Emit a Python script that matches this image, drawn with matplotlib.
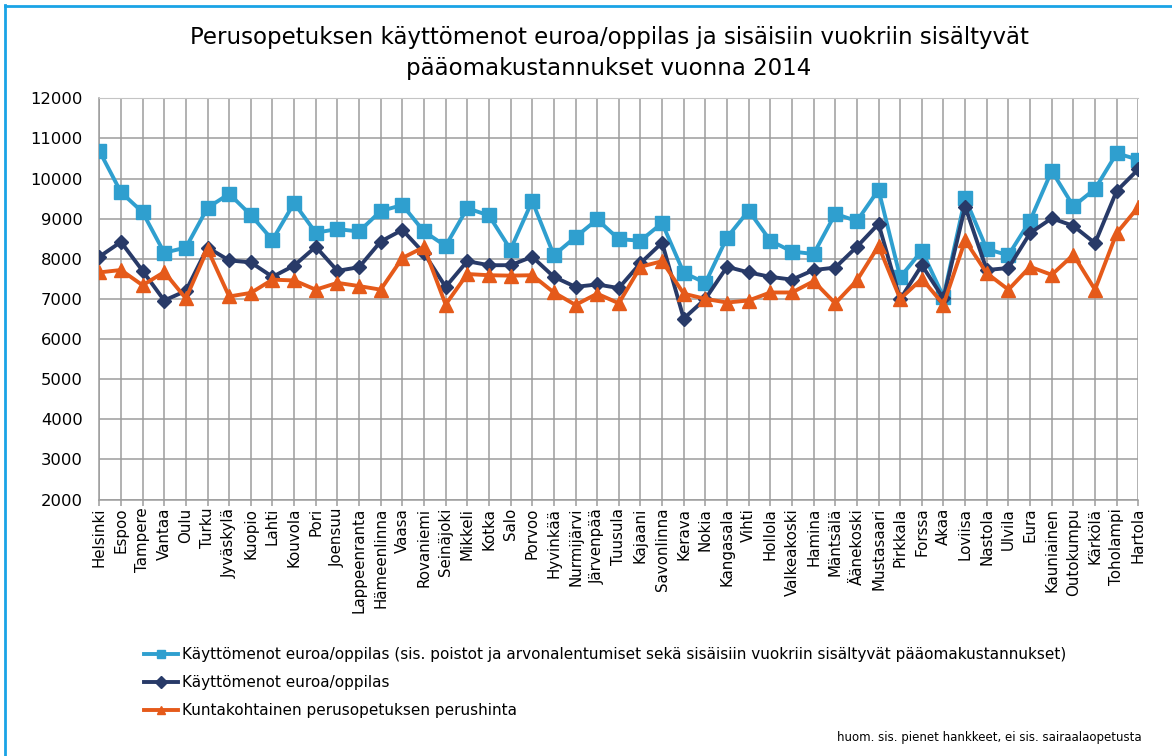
import matplotlib.pyplot as plt

kunnat = ['Helsinki', 'Espoo', 'Tampere', 'Vantaa', 'Oulu', 'Turku', 'Jyväskylä',
          'Kuopio', 'Lahti', 'Kouvola', 'Pori', 'Joensuu', 'Lappeenranta',
          'Hämeenlinna', 'Vaasa', 'Rovaniemi', 'Seinäjoki', 'Mikkeli', 'Kotka',
          'Salo', 'Porvoo', 'Hyvinkää', 'Nurmijärvi', 'Järvenpää', 'Tuusula',
          'Kajaani', 'Savonlinna', 'Kerava', 'Nokia', 'Kangasala', 'Vihti',
          'Hollola', 'Valkeakoski', 'Hamina', 'Mäntsälä', 'Äänekoski',
          'Mustasaari', 'Pirkkala', 'Forssa', 'Akaa', 'Loviisa', 'Nastola',
          'Ulvila', 'Eura', 'Kauniainen', 'Outokumpu', 'Kärkölä', 'Toholampi',
          'Hartola']

# käyttömenot sis. poistot ja pääomakustannukset
kaytto_sis = [10690, 9660, 9160, 8150, 8280, 9270, 9620, 9090, 8470, 9390,
              8650, 8740, 8680, 9190, 9340, 8680, 8320, 9260, 9080, 8230,
              9440, 8090, 8540, 8980, 8490, 8450, 8890, 7650, 7400, 8530,
              9200, 8450, 8180, 8120, 9120, 8940, 9720, 7540, 8200, 7050,
              9510, 8240, 8090, 8950, 10190, 9310, 9740, 10630, 10470]

# käyttömenot euroa/oppilas
kaytto = [8050, 8420, 7700, 6960, 7200, 8280, 7960, 7910, 7550, 7830,
          8300, 7700, 7790, 8430, 8720, 8140, 7300, 7940, 7840, 7840,
          8050, 7550, 7300, 7360, 7270, 7890, 8400, 6510, 7000, 7800,
          7660, 7550, 7480, 7720, 7780, 8300, 8870, 6990, 7840, 7010,
          9300, 7720, 7770, 8640, 9010, 8820, 8390, 9690, 10230]

# kuntakohtainen perushinta
perushinta = [7660, 7720, 7340, 7670, 7010, 8240, 7060, 7150, 7480, 7460,
              7230, 7400, 7320, 7230, 8020, 8290, 6860, 7620, 7590, 7580,
              7590, 7160, 6850, 7130, 6890, 7800, 7940, 7130, 7000, 6910,
              6960, 7160, 7160, 7440, 6890, 7460, 8320, 7000, 7500, 6860,
              8460, 7640, 7230, 7800, 7600, 8100, 7230, 8640, 9290]

vaalea = '#2f9fcf'
tumma = '#283a68'
oranssi = '#e55a1a'
grid_c = '#9c9c9c'

fig = plt.figure(figsize=(11.72, 7.56), dpi=100)
ax = fig.add_axes([99.3 / 1172, 1 - 499.5 / 756, (1138.3 - 99.3) / 1172, (499.5 - 98.3) / 756])

x = list(range(len(kunnat)))
ax.plot(x, kaytto_sis, color=vaalea, lw=2.8, marker='s', ms=10, zorder=3,
        label='Käyttömenot euroa/oppilas (sis. poistot ja arvonalentumiset sekä sisäisiin vuokriin sisältyvät pääomakustannukset)')
ax.plot(x, kaytto, color=tumma, lw=2.8, marker='D', ms=7.5, zorder=4,
        label='Käyttömenot euroa/oppilas')
ax.plot(x, perushinta, color=oranssi, lw=2.8, marker='^', ms=10, zorder=5,
        label='Kuntakohtainen perusopetuksen perushinta')

ax.set_xlim(0, len(kunnat) - 1)
ax.set_ylim(2000, 12000)
ax.set_yticks(range(2000, 12001, 1000))
ax.set_xticks(x)
ax.set_xticklabels(kunnat, rotation=90, fontsize=10.8)
ax.grid(True, color=grid_c, lw=1.1)
ax.set_axisbelow(True)
ax.tick_params(axis='y', length=0, pad=12, labelsize=11.8)
ax.tick_params(axis='x', length=4, color=grid_c, width=1.1, pad=2)
for s in ['left', 'bottom']:
    ax.spines[s].set_color(grid_c)
    ax.spines[s].set_linewidth(1.1)
ax.spines['top'].set_color('#c4c4c4')
ax.spines['right'].set_visible(False)

fig.text(609 / 1172, 1 - 53 / 756, 'Perusopetuksen käyttömenot euroa/oppilas ja sisäisiin vuokriin sisältyvät\npääomakustannukset vuonna 2014',
         ha='center', va='center', fontsize=16.5, linespacing=1.45)

leg = fig.legend(loc='upper left', bbox_to_anchor=(138 / 1172, 1 - 641 / 756),
                 frameon=False, fontsize=11, handlelength=2.2, handletextpad=0.3,
                 labelspacing=0.85, borderaxespad=0)
for h in leg.legend_handles:
    h.set_markersize(6)

fig.text(1142 / 1172, 1 - 737 / 756, 'huom. sis. pienet hankkeet, ei sis. sairaalaopetusta',
         ha='right', va='center', fontsize=8.5)

# sininen kehys
fig.add_artist(plt.Line2D([5 / 1172, 5 / 1172], [0, 1 - 5 / 756], color='#1aa3e6', lw=2))
fig.add_artist(plt.Line2D([5 / 1172, 1], [1 - 6 / 756, 1 - 6 / 756], color='#1aa3e6', lw=2))

fig.savefig('out.png', dpi=100)
